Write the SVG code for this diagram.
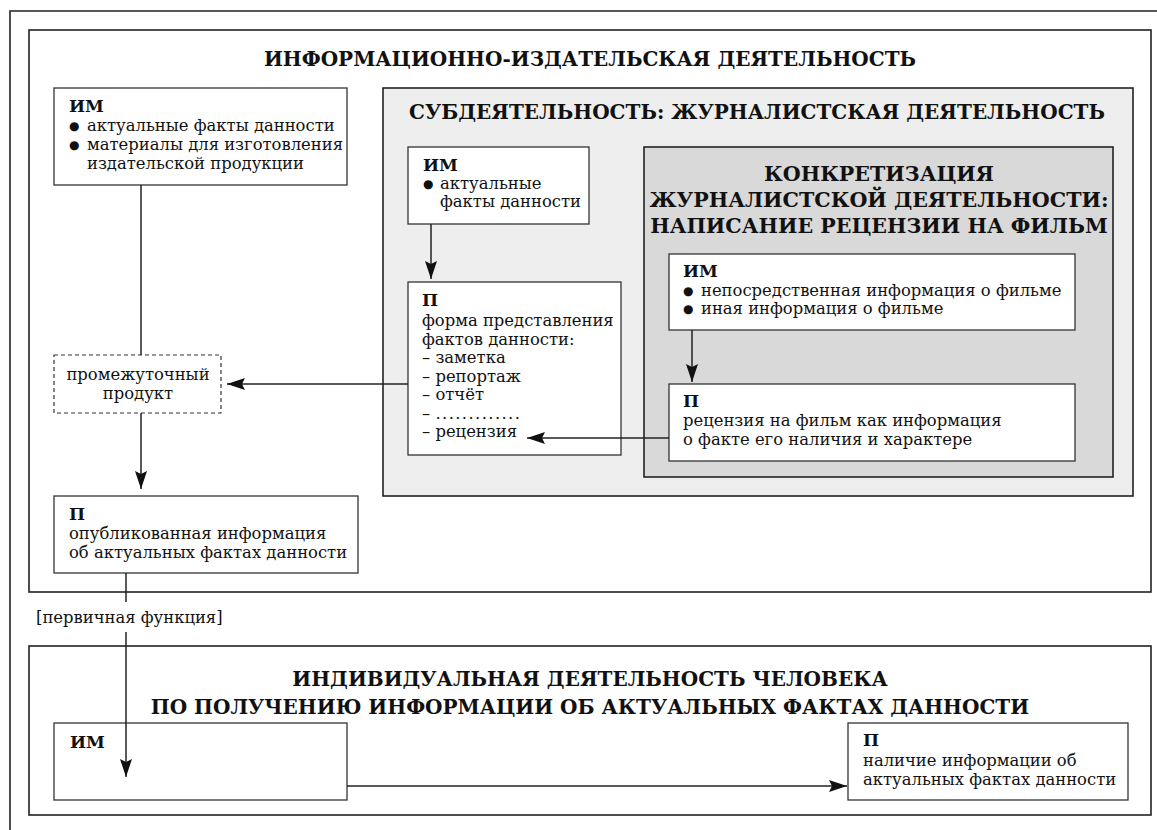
<svg xmlns="http://www.w3.org/2000/svg" width="1157" height="830" viewBox="0 0 1157 830">
<style>
text{font-family:"DejaVu Serif","Liberation Serif",serif;fill:#111}
.b{font-size:16.4px}
.h{font-size:17px;font-weight:bold}
.t{font-size:20px;font-weight:bold}
.t2{font-size:20.6px;font-weight:bold}
.box{fill:#fff;stroke:#333;stroke-width:1.3}
.frame{fill:#fff;stroke:#222;stroke-width:1.6}
.dash{fill:#fff;stroke:#333;stroke-width:1.2;stroke-dasharray:4 3}
.g1{fill:#eeeeee;stroke:#222;stroke-width:1.6}
.g2{fill:#d9d9d9;stroke:#222;stroke-width:1.6}
.ln{fill:none;stroke:#222;stroke-width:1.5}
.dot{font-size:12px;font-family:"DejaVu Sans",sans-serif}
</style>
<defs>
<marker id="ah" viewBox="0 0 18 12" refX="18" refY="6" markerWidth="18" markerHeight="12" markerUnits="userSpaceOnUse" orient="auto">
<path d="M0,0 L18,6 L0,12 L3,6 z" fill="#111"/>
</marker>
</defs>

<g id="outer-frame">
<path d="M10,830 V11 H1157" fill="none" stroke="#222" stroke-width="1.6"/>
</g>

<g id="publishing-activity">
<rect class="frame" x="29" y="30" width="1122" height="562"/>
<text class="t" x="590" y="66" text-anchor="middle">ИНФОРМАЦИОННО-ИЗДАТЕЛЬСКАЯ ДЕЯТЕЛЬНОСТЬ</text>
</g>

<g id="sub-activity">
<rect class="g1" x="383" y="88" width="750" height="408"/>
<text class="t" x="757" y="119" text-anchor="middle">СУБДЕЯТЕЛЬНОСТЬ: ЖУРНАЛИСТСКАЯ ДЕЯТЕЛЬНОСТЬ</text>
</g>

<g id="concretization">
<rect class="g2" x="644" y="147" width="469" height="330"/>
<text class="t2" x="879" y="181" text-anchor="middle">КОНКРЕТИЗАЦИЯ</text>
<text class="t2" x="879" y="207" text-anchor="middle">ЖУРНАЛИСТСКОЙ ДЕЯТЕЛЬНОСТИ:</text>
<text class="t2" x="879" y="233" text-anchor="middle">НАПИСАНИЕ РЕЦЕНЗИИ НА ФИЛЬМ</text>
</g>

<g id="individual-activity">
<rect class="frame" x="29" y="646" width="1122" height="169"/>
<text class="t" x="590" y="686" text-anchor="middle">ИНДИВИДУАЛЬНАЯ ДЕЯТЕЛЬНОСТЬ ЧЕЛОВЕКА</text>
<text class="t" x="590" y="714" text-anchor="middle">ПО ПОЛУЧЕНИЮ ИНФОРМАЦИИ ОБ АКТУАЛЬНЫХ ФАКТАХ ДАННОСТИ</text>
</g>

<g id="pub-im">
<rect class="box" x="54" y="88" width="293" height="97"/>
<text class="h" x="69" y="112">ИМ</text>
<text class="dot" x="69" y="130">●</text>
<text class="b" x="87" y="131">актуальные факты данности</text>
<text class="dot" x="69" y="149">●</text>
<text class="b" x="87" y="150">материалы для изготовления</text>
<text class="b" x="87" y="169">издательской продукции</text>
</g>

<g id="intermediate">
<rect class="dash" x="54" y="355" width="167" height="58"/>
<text class="b" x="138" y="380" text-anchor="middle">промежуточный</text>
<text class="b" x="138" y="399" text-anchor="middle">продукт</text>
</g>

<g id="pub-p">
<rect class="box" x="54" y="496" width="304" height="77"/>
<text class="h" x="69" y="520">П</text>
<text class="b" x="69" y="539">опубликованная информация</text>
<text class="b" x="69" y="558">об актуальных фактах данности</text>
</g>

<g id="jour-im">
<rect class="box" x="408" y="147" width="181" height="77"/>
<text class="h" x="423" y="171">ИМ</text>
<text class="dot" x="423" y="188">●</text>
<text class="b" x="440" y="189">актуальные</text>
<text class="b" x="440" y="207">факты данности</text>
</g>

<g id="jour-p">
<rect class="box" x="408" y="282" width="213" height="173"/>
<text class="h" x="422" y="306">П</text>
<text class="b" x="422" y="326">форма представления</text>
<text class="b" x="422" y="345">фактов данности:</text>
<text class="b" x="422" y="363">– заметка</text>
<text class="b" x="422" y="382">– репортаж</text>
<text class="b" x="422" y="400">– отчёт</text>
<text class="b" x="422" y="419">– <tspan letter-spacing="1.4">.............</tspan></text>
<text class="b" x="422" y="437">– рецензия</text>
</g>

<g id="review-im">
<rect class="box" x="669" y="254" width="406" height="76"/>
<text class="h" x="683" y="277">ИМ</text>
<text class="dot" x="683" y="295">●</text>
<text class="b" x="701" y="296">непосредственная информация о фильме</text>
<text class="dot" x="683" y="313">●</text>
<text class="b" x="701" y="314">иная информация о фильме</text>
</g>

<g id="review-p">
<rect class="box" x="669" y="384" width="406" height="77"/>
<text class="h" x="683" y="407">П</text>
<text class="b" x="683" y="426">рецензия на фильм как информация</text>
<text class="b" x="683" y="445">о факте его наличия и характере</text>
</g>

<g id="person-im">
<rect class="box" x="54" y="723" width="293" height="77"/>
<text class="h" x="70" y="748">ИМ</text>
</g>

<g id="person-p">
<rect class="box" x="848" y="723" width="280" height="77"/>
<text class="h" x="863" y="746">П</text>
<text class="b" x="863" y="766">наличие информации об</text>
<text class="b" x="863" y="785">актуальных фактах данности</text>
</g>

<g id="connectors">
<path class="ln" d="M141,185 V355"/>
<path class="ln" d="M141,413 V489" marker-end="url(#ah)"/>
<path class="ln" d="M431,224 V279" marker-end="url(#ah)"/>
<path class="ln" d="M408,384 H227" marker-end="url(#ah)"/>
<path class="ln" d="M692,330 V382" marker-end="url(#ah)"/>
<path class="ln" d="M669,438 H527" marker-end="url(#ah)"/>
<path class="ln" d="M126,573 V602"/>
<path class="ln" d="M126,632 V777" marker-end="url(#ah)"/>
<path class="ln" d="M347,786 H847" marker-end="url(#ah)"/>
<text class="b" x="36" y="623">[первичная функция]</text>
</g>
</svg>
